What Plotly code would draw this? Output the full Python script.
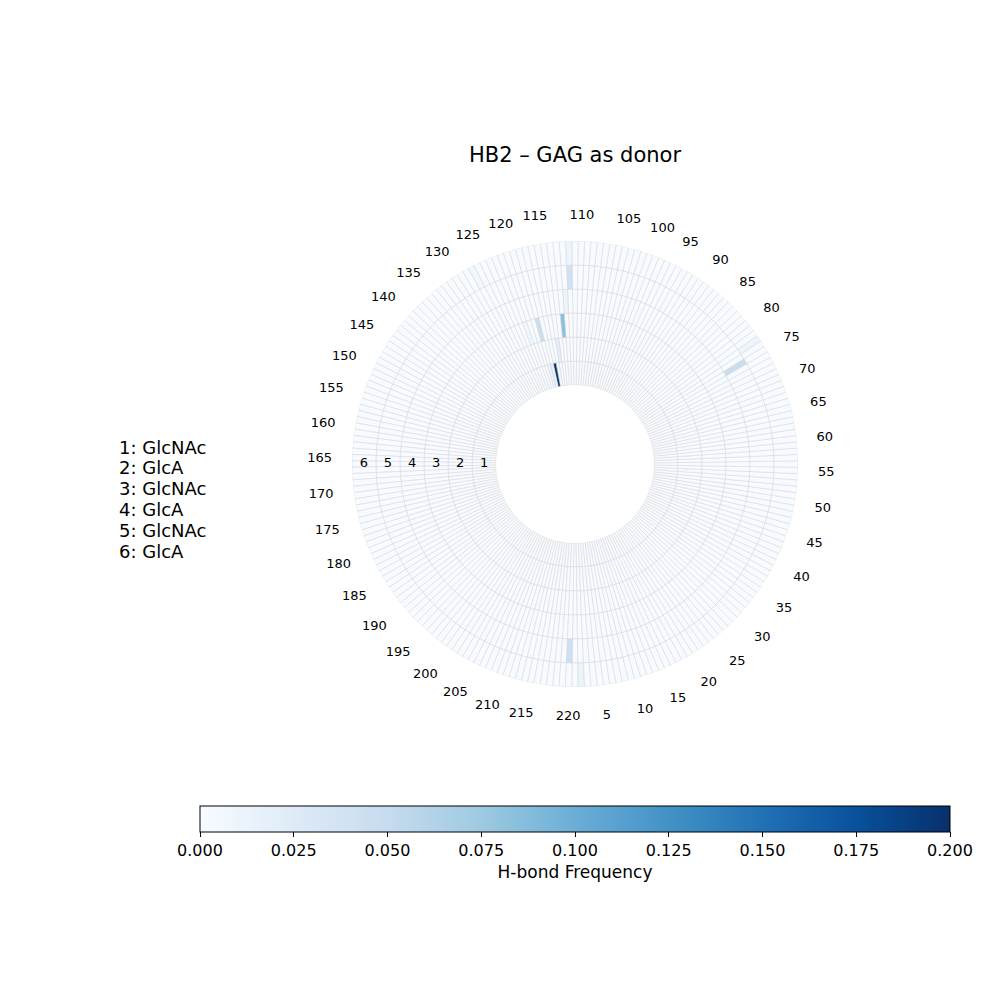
import plotly.graph_objects as go

# ---------------- data ----------------
n_residues = 220
residues = list(range(1, n_residues + 1))
gag_units = ["GlcNAc", "GlcA", "GlcNAc", "GlcA", "GlcNAc", "GlcA"]
ring_ids = [1, 2, 3, 4, 5, 6]

# non-zero H-bond frequencies (ring = GAG unit, residue = protein residue)
hit_ring = [1, 1, 1, 2, 3, 3, 3, 4, 5, 5, 5, 6, 6, 6, 6]
hit_res = [118, 119, 120, 116, 114, 120, 123, 113, 112, 75, 220, 112, 77, 2, 128]
hit_freq = [0.195, 0.015, 0.012, 0.02, 0.085, 0.045, 0.008, 0.012, 0.04, 0.045,
            0.042, 0.01, 0.01, 0.012, 0.006]

tick_res = list(range(5, n_residues + 1, 5))
cbar_ticks = [0.0, 0.025, 0.05, 0.075, 0.1, 0.125, 0.15, 0.175, 0.2]

# ---------------- build matrix ----------------
freq = {(r, i): 0.0 for r in ring_ids for i in residues}
for r, i, v in zip(hit_ring, hit_res, hit_freq):
    freq[(r, i)] = v

step = 360.0 / n_residues
thetas, bases, rs, colors = [], [], [], []
for r in ring_ids:
    for i in residues:
        thetas.append((i - 1) * step)
        bases.append(r - 1)
        rs.append(1)
        colors.append(freq[(r, i)])

blues = [
    [0.0, "#f7fbff"], [0.125, "#deebf7"], [0.25, "#c6dbef"], [0.375, "#9ecae1"],
    [0.5, "#6baed6"], [0.625, "#4292c6"], [0.75, "#2171b5"], [0.875, "#08519c"],
    [1.0, "#08306b"],
]

fig = go.Figure()
fig.add_trace(go.Barpolar(
    r=rs, base=bases, theta=thetas, width=[step] * len(thetas),
    marker=dict(
        color=colors, colorscale=blues, cmin=0, cmax=0.2,
        line=dict(color="#d4d4d4", width=0.5),
        colorbar=dict(
            orientation="h", x=0.575, xanchor="center",
            len=750, lenmode="pixels", thickness=26,
            y=0.194, yanchor="top", ypad=0, xpad=0,
            outlinecolor="black", outlinewidth=1,
            ticks="outside", ticklen=5, tickcolor="black",
            tickvals=cbar_ticks, tickformat=".3f",
            tickfont=dict(family="DejaVu Sans", size=16, color="black"),
            title=dict(text="H-bond Frequency", side="bottom",
                       font=dict(family="DejaVu Sans", size=17, color="black")),
        ),
    ),
    hoverinfo="skip", showlegend=False,
))

# ring labels on the left
fig.add_trace(go.Scatterpolar(
    r=[k - 0.5 for k in ring_ids], theta=[270] * len(ring_ids),
    text=[str(k) for k in ring_ids], mode="text",
    textfont=dict(family="DejaVu Sans", size=13, color="black"),
    showlegend=False, hoverinfo="skip",
))

legend_lines = [f"{k}: {u}" for k, u in zip(ring_ids, gag_units)]
annotations = []
for idx, line in enumerate(legend_lines):
    annotations.append(dict(
        text=line, x=0.117, xref="paper", xanchor="left", align="left",
        y=1 - (447 + idx * 20.8) / 1000, yref="paper", yanchor="middle",
        showarrow=False,
        font=dict(family="DejaVu Sans", size=18, color="black"),
    ))

fig.update_layout(
    width=1000, height=1000,
    margin=dict(l=0, r=0, t=0, b=0),
    paper_bgcolor="white", plot_bgcolor="white",
    font=dict(family="DejaVu Sans", color="black"),
    title=dict(text="HB2 – GAG as donor", x=0.575, xanchor="center",
               y=0.845, yanchor="middle",
               font=dict(family="DejaVu Sans", size=21, color="black")),
    polar=dict(
        domain=dict(x=[0.352, 0.798], y=[0.313, 0.759]),
        hole=0.354,
        bgcolor="white",
        radialaxis=dict(range=[0, 6], visible=False, showgrid=False),
        angularaxis=dict(
            rotation=-90, direction="counterclockwise",
            tickmode="array",
            tickvals=[(i - 1) * step for i in tick_res],
            ticktext=[str(i) for i in tick_res],
            ticks="outside", ticklen=17, tickcolor="rgba(0,0,0,0)",
            tickfont=dict(family="DejaVu Sans", size=13, color="black"),
            showgrid=False, showline=False,
        ),
    ),
    annotations=annotations,
)

fig.write_html("out.html")
